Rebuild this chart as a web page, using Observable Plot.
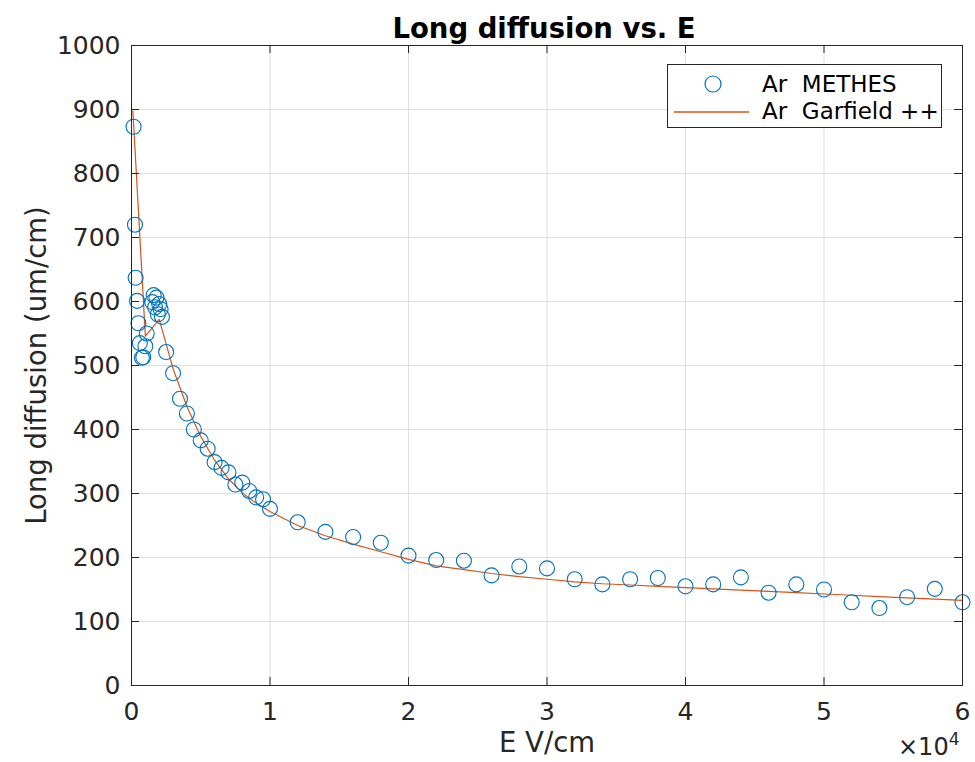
<!DOCTYPE html>
<html>
<head>
<meta charset="utf-8">
<script src="https://cdn.jsdelivr.net/npm/d3@7"></script>
<script src="https://cdn.jsdelivr.net/npm/@observablehq/plot@0.6"></script>
<style>
  html, body { margin: 0; padding: 0; background: #fff; }
  #wrap { position: relative; width: 975px; height: 762px; font-family: "DejaVu Sans", sans-serif; color: #262626; overflow: hidden; }
  #legend { position: absolute; left: 667px; top: 64px; width: 275px; height: 64px; border: 1px solid #262626; background: #fff; box-sizing: border-box; font-size: 23px; }
  .lrow { position: absolute; left: 0; height: 26px; line-height: 26px; }
  .lsym { position: absolute; }
  .ltxt { position: absolute; left: 94px; top: 0; white-space: pre; color: #000; }
  #exp { position: absolute; left: 898px; top: 735px; height: 24px; font-size: 24px; line-height: 24px; white-space: nowrap; color: #262626; }
  #exp sup { font-size: 17px; line-height: 17px; position: relative; top: -4px; vertical-align: top; }
</style>
</head>
<body>
<div id="wrap">
  <div id="chart"></div>
  <div id="legend">
    <div class="lrow" style="top:6px">
      <svg class="lsym" style="left:35px;top:3px" width="20" height="20"><circle cx="10" cy="10" r="8" fill="none" stroke="#0072BD" stroke-width="1.2"/></svg>
      <span class="ltxt" id="leg1"></span>
    </div>
    <div class="lrow" style="top:33px">
      <svg class="lsym" style="left:6px;top:12px" width="78" height="4"><line x1="0" y1="2" x2="75" y2="2" stroke="#D95319" stroke-width="1.3"/></svg>
      <span class="ltxt" id="leg2"></span>
    </div>
  </div>
  <div id="exp">×10<sup>4</sup></div>
</div>
<script>
const titleText = "Long diffusion vs. E";
const xLabel = "E V/cm";
const yLabel = "Long diffusion (um/cm)";
const seriesNames = ["Ar  METHES", "Ar  Garfield ++"];

const methesE = [150, 250, 300, 400, 500, 600, 750, 850, 1000, 1100,
  1500, 1600, 1700, 1800, 1900, 2000, 2100, 2200,
  2500, 3000, 3500, 4000, 4500, 5000, 5500, 6000, 6500, 7000, 7500, 8000, 8500, 9000, 9500, 10000,
  12000, 14000, 16000, 18000, 20000, 22000, 24000, 26000, 28000, 30000, 32000, 34000, 36000, 38000,
  40000, 42000, 44000, 46000, 48000, 50000, 52000, 54000, 56000, 58000, 60000];
const methesD = [873, 720, 637, 601, 566, 535, 512, 513, 530, 550,
  599, 610, 591, 606, 580, 596, 588, 576,
  521, 488, 448, 425, 400, 383, 370, 349, 340, 333, 314, 317, 304, 294, 291, 276,
  255, 240, 232, 223, 203, 196, 195, 172, 186, 183, 166, 158, 166, 168,
  155, 158, 169, 145, 158, 150, 130, 121, 138, 151, 130];

const garfE = [100, 1000, 2000, 3000, 4000, 5000, 6000, 7000, 8000, 9000, 10000,
  12000, 14000, 16000, 18000, 20000, 22000, 24000, 26000, 28000, 30000,
  32000, 34000, 36000, 38000, 40000, 42000, 44000, 46000, 48000, 50000,
  52000, 54000, 56000, 58000, 60000];
const garfD = [898, 546, 572, 495, 436, 389, 352, 323, 301, 285, 272,
  250, 234, 221, 209, 197, 187, 181, 175, 170, 166,
  162, 159, 157, 155, 153, 151, 149, 147, 145, 143,
  141, 139, 137, 135, 133];

const xTicks = [0, 10000, 20000, 30000, 40000, 50000, 60000];
const yTicks = [0, 100, 200, 300, 400, 500, 600, 700, 800, 900, 1000];

const methes = methesE.map((e, i) => ({e, d: methesD[i]}));
const garf = garfE.map((e, i) => ({e, d: garfD[i]}));

document.getElementById("leg1").textContent = seriesNames[0];
document.getElementById("leg2").textContent = seriesNames[1];

const W = 975, H = 762, mL = 131, mR = 13, mT = 45, mB = 77;
const pw = W - mL - mR, ph = H - mT - mB, tk = 8;

const chart = Plot.plot({
  width: W, height: H,
  marginLeft: mL, marginRight: mR, marginTop: mT, marginBottom: mB,
  style: {fontFamily: "DejaVu Sans, sans-serif", fontSize: "25px", color: "#262626", background: "#fff"},
  x: {domain: [0, 60000], label: null},
  y: {domain: [0, 1000], label: null},
  marks: [
    Plot.gridX(xTicks, {stroke: "#dfdfdf", strokeOpacity: 1}),
    Plot.gridY(yTicks, {stroke: "#dfdfdf", strokeOpacity: 1}),
    Plot.line(garf, {x: "e", y: "d", stroke: "#D95319", strokeWidth: 1.2}),
    Plot.dot(methes, {x: "e", y: "d", r: 7.5, stroke: "#0072BD", strokeWidth: 1.1, fill: "none"}),
    Plot.tickY(yTicks, {y: d => d, stroke: "#262626", insetRight: pw - tk}),
    Plot.tickY(yTicks, {y: d => d, stroke: "#262626", insetLeft: pw - tk}),
    Plot.tickX(xTicks, {x: d => d, stroke: "#262626", insetTop: ph - tk}),
    Plot.tickX(xTicks, {x: d => d, stroke: "#262626", insetBottom: ph - tk}),
    Plot.frame({stroke: "#262626", strokeWidth: 1}),
    Plot.axisX({ticks: xTicks, tickFormat: d => String(d / 10000), tickSize: 0, tickPadding: 17, fontSize: 25, fill: "#262626", label: null}),
    Plot.axisY({ticks: yTicks, tickFormat: d => String(d), tickSize: 0, tickPadding: 11, fontSize: 25, fill: "#262626", label: null}),
    Plot.text([xLabel], {text: d => d, frameAnchor: "bottom", textAnchor: "middle", dy: 66, fontSize: 27.5, fill: "#262626"}),
    Plot.text([yLabel], {text: d => d, frameAnchor: "left", textAnchor: "middle", dx: -94, rotate: -90, fontSize: 27.5, fill: "#262626"}),
    Plot.text([titleText], {text: d => d, frameAnchor: "top", lineAnchor: "bottom", dy: -8, dx: -3, fontSize: 27.5, fontWeight: "bold", fill: "#000"})
  ]
});
document.getElementById("chart").appendChild(chart);
</script>
</body>
</html>
